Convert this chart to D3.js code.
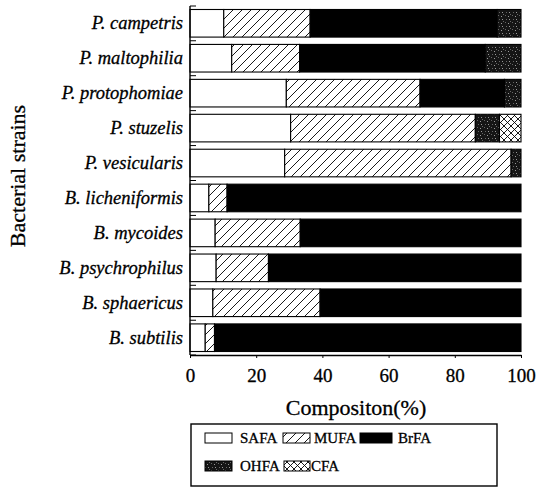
<!DOCTYPE html>
<html>
<head>
<meta charset="utf-8">
<script src="https://cdn.jsdelivr.net/npm/d3@7"></script>
<style>
  body { margin: 0; background: #fff; }
</style>
</head>
<body>
<div id="chart"></div>
<script>
const STRAINS = ['P. campetris', 'P. maltophilia', 'P. protophomiae', 'P. stuzelis', 'P. vesicularis',
  'B. licheniformis', 'B. mycoides', 'B. psychrophilus', 'B. sphaericus', 'B. subtilis'];
const SERIES = ['SAFA', 'MUFA', 'BrFA', 'OHFA', 'CFA'];
const SAFA = [10.2, 12.6, 29.1, 30.4, 28.6, 5.7, 7.6, 7.9, 6.9, 4.6];
const MUFA = [26.1, 20.5, 40.4, 55.8, 68.4, 5.5, 25.7, 15.8, 32.4, 2.8];
const BRFA = [56.5, 56.1, 25.5, 0, 0, 88.8, 66.7, 76.3, 60.7, 92.6];
const OHFA = [7.2, 10.8, 5.0, 7.3, 3.0, 0, 0, 0, 0, 0];
const CFA = [0, 0, 0, 6.5, 0, 0, 0, 0, 0, 0];
const X_TICKS = [0, 20, 40, 60, 80, 100];

const FONT = 'Liberation Serif';

const rows = STRAINS.map((s, i) => ({
  strain: s, SAFA: SAFA[i], MUFA: MUFA[i], BrFA: BRFA[i], OHFA: OHFA[i], CFA: CFA[i]
}));

const W = 538, H = 491;
const plot = { left: 190, right: 521, top: 6, bottom: 355 };

const svg = d3.select('#chart').append('svg')
  .attr('width', W).attr('height', H);

// scanned print looks a bit heavy, thicken the glyphs slightly
function ink(sel) {
  return sel.attr('font-family', FONT).attr('fill', '#000')
    .attr('stroke', '#000').attr('stroke-width', 0.3);
}

// ─── Patterns ───
const defs = svg.append('defs');
const hatch = defs.append('pattern').attr('id', 'p-mufa')
  .attr('patternUnits', 'userSpaceOnUse').attr('width', 9).attr('height', 9);
hatch.append('rect').attr('width', 9).attr('height', 9).attr('fill', '#fff');
hatch.append('path').attr('d', 'M-1,10 L10,-1 M-3,3 L3,-3 M6,12 L12,6')
  .attr('stroke', '#000').attr('stroke-width', 0.9);

const cross = defs.append('pattern').attr('id', 'p-cfa')
  .attr('patternUnits', 'userSpaceOnUse').attr('width', 7).attr('height', 7);
cross.append('rect').attr('width', 7).attr('height', 7).attr('fill', '#fff');
cross.append('path').attr('d', 'M0,0 L7,7 M0,7 L7,0')
  .attr('stroke', '#000').attr('stroke-width', 0.9);

const speck = defs.append('pattern').attr('id', 'p-ohfa')
  .attr('patternUnits', 'userSpaceOnUse').attr('width', 7).attr('height', 7);
speck.append('rect').attr('width', 7).attr('height', 7).attr('fill', '#151515');
[[1, 1], [4, 2], [2, 5], [5, 5], [6, 0]].forEach(([x, y], k) => {
  speck.append('rect').attr('x', x).attr('y', y).attr('width', 1).attr('height', 1)
    .attr('fill', k % 2 ? '#999' : '#666');
});

const FILL = { SAFA: '#fff', MUFA: 'url(#p-mufa)', BrFA: '#000', OHFA: 'url(#p-ohfa)', CFA: 'url(#p-cfa)' };

// ─── Scales ───
const x = d3.scaleLinear().domain([0, 100]).range([plot.left, plot.right]);
const y = d3.scaleBand().domain(STRAINS).range([plot.top, plot.bottom])
  .paddingInner(0.21).paddingOuter(0.1);

const stacked = d3.stack().keys(SERIES)(rows);

// Bars
svg.append('g').selectAll('g').data(stacked).join('g')
  .attr('fill', d => FILL[d.key])
  .selectAll('rect').data(d => d.filter(v => v[1] - v[0] > 0)).join('rect')
  .attr('x', d => x(d[0]))
  .attr('y', d => y(d.data.strain))
  .attr('width', d => x(d[1]) - x(d[0]))
  .attr('height', y.bandwidth())
  .attr('stroke', '#000').attr('stroke-width', 1.1);

// X axis
const xAxis = svg.append('g')
  .attr('transform', `translate(0,${plot.bottom})`)
  .call(d3.axisBottom(x).tickValues(X_TICKS).tickSize(3).tickPadding(11).tickSizeOuter(0));
xAxis.select('.domain').attr('stroke-width', 1.4);
ink(xAxis.selectAll('text')).attr('font-size', 19);

// Y axis: ticks at band boundaries pointing inward
const yAxis = svg.append('g').attr('transform', `translate(${plot.left},0)`);
yAxis.append('line').attr('x1', 0).attr('x2', 0).attr('y1', plot.top).attr('y2', plot.bottom)
  .attr('stroke', '#000').attr('stroke-width', 1.4);
const bounds = STRAINS.map(s => y(s) - y.step() * y.paddingInner() / 2).concat([plot.bottom]);
bounds[0] = plot.top;
yAxis.selectAll('.yt').data(bounds).join('line')
  .attr('x1', 0).attr('x2', 6)
  .attr('y1', d => d).attr('y2', d => d)
  .attr('stroke', '#000').attr('stroke-width', 1);
ink(yAxis.selectAll('.lab').data(STRAINS).join('text'))
  .attr('x', -7)
  .attr('y', d => y(d) + y.bandwidth() / 2)
  .attr('dy', '0.33em')
  .attr('text-anchor', 'end')
  .attr('font-style', 'italic')
  .attr('font-size', 18.5)
  .text(d => d);

// Axis titles
ink(svg.append('text'))
  .attr('x', 356).attr('y', 415)
  .attr('text-anchor', 'middle').attr('font-size', 22)
  .text('Compositon(%)');
ink(svg.append('text'))
  .attr('transform', `translate(25,176) rotate(-90)`)
  .attr('text-anchor', 'middle').attr('font-size', 22)
  .text('Bacterial strains');

// Legend
const leg = svg.append('g');
leg.append('rect').attr('x', 191).attr('y', 424).attr('width', 306).attr('height', 62)
  .attr('fill', '#fff').attr('stroke', '#000').attr('stroke-width', 1.4);
const legPos = [
  { key: 'SAFA', sx: 205, sw: 27, tx: 240, y: 438 },
  { key: 'MUFA', sx: 283, sw: 27, tx: 314, y: 438 },
  { key: 'BrFA', sx: 360, sw: 32, tx: 398, y: 438 },
  { key: 'OHFA', sx: 205, sw: 27, tx: 240, y: 466 },
  { key: 'CFA', sx: 284, sw: 26, tx: 311, y: 466 }
];
legPos.forEach(p => {
  leg.append('rect').attr('x', p.sx).attr('y', p.y - 5).attr('width', p.sw).attr('height', 10)
    .attr('fill', FILL[p.key]).attr('stroke', '#000').attr('stroke-width', 1);
  ink(leg.append('text')).attr('x', p.tx).attr('y', p.y).attr('dy', '0.35em')
    .attr('font-size', 15).text(p.key);
});
</script>
</body>
</html>
